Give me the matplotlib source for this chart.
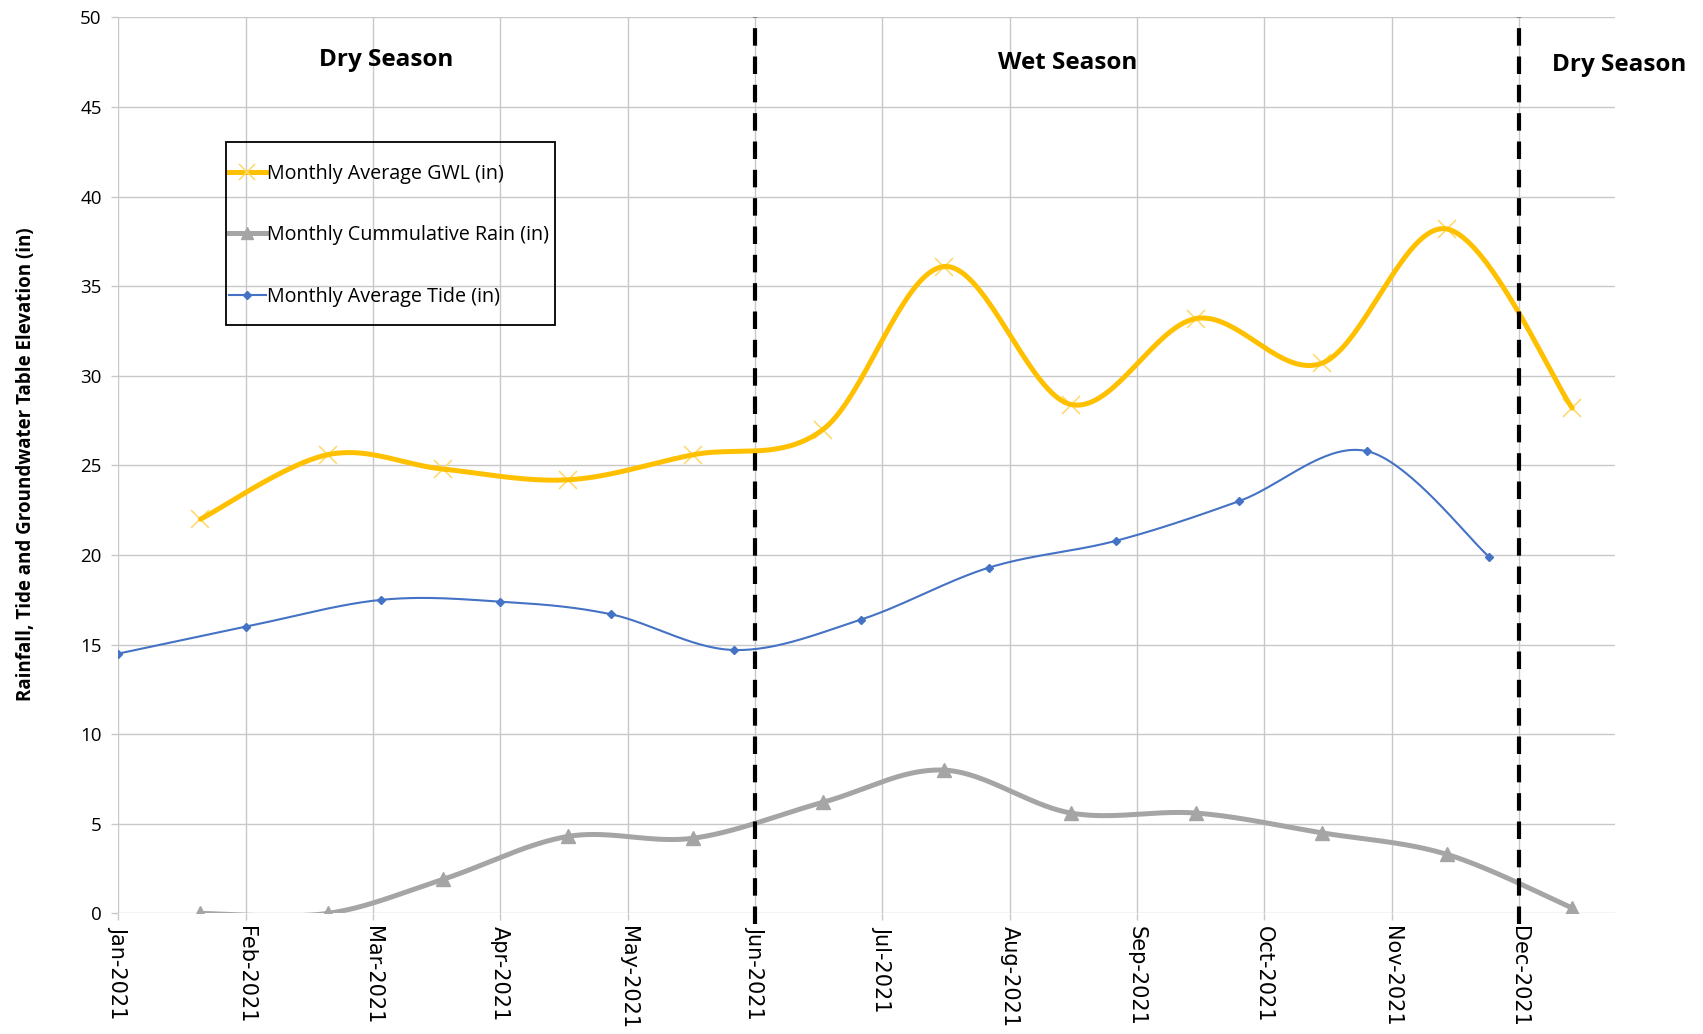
import numpy as np
import pandas as pd
import matplotlib
matplotlib.use("Agg")
import matplotlib.pyplot as plt
from matplotlib.lines import Line2D
from matplotlib.patches import Rectangle

plt.rcParams["font.family"] = ["Open Sans", "DejaVu Sans"]

OUTPUT_FILE = "out.png"
FIG_W, FIG_H = 1703, 1034

GWL_COLOR = "#FFC000"
GWL_MARKER_COLOR = "#FFD966"
RAIN_COLOR = "#A5A5A5"
TIDE_COLOR = "#4472C4"
GRID_COLOR = "#C8C8C8"

# Data.
MONTH_LABELS = ["Jan-2021", "Feb-2021", "Mar-2021", "Apr-2021", "May-2021",
                "Jun-2021", "Jul-2021", "Aug-2021", "Sep-2021", "Oct-2021",
                "Nov-2021", "Dec-2021"]

gwl_dates = ["2021-01-21", "2021-02-19", "2021-03-18", "2021-04-17",
             "2021-05-17", "2021-06-17", "2021-07-16", "2021-08-16",
             "2021-09-15", "2021-10-15", "2021-11-14", "2021-12-14"]
gwl_in = [22.0, 25.6, 24.8, 24.2, 25.6, 27.0, 36.1, 28.4, 33.2, 30.7,
          38.2, 28.2]
rain_in = [0.0, 0.0, 1.9, 4.3, 4.2, 6.2, 8.0, 5.6, 5.6, 4.5, 3.3, 0.3]

tide_dates = ["2021-01-01", "2021-02-01", "2021-03-03", "2021-04-01",
              "2021-04-27", "2021-05-27", "2021-06-26", "2021-07-27",
              "2021-08-27", "2021-09-25", "2021-10-26", "2021-11-24"]
tide_in = [14.5, 16.0, 17.5, 17.4, 16.7, 14.7, 16.4, 19.3, 20.8, 23.0,
           25.8, 19.9]

season_labels = ["Dry Season", "Wet Season", "Dry Season"]
season_bounds = ["2021-06-01", "2021-12-01"]


#______________________________________________________________________________
def month_pos(dates):
  """Position on a month axis where every month gets the same width."""
  d = pd.to_datetime(pd.Series(dates))
  return ((d.dt.month - 1) + (d.dt.day - 1) / d.dt.days_in_month).to_numpy()


#______________________________________________________________________________
def smooth(x, y, n=40):
  """Excel-style smoothed line: Catmull-Rom curve drawn as Bezier pieces."""
  p = np.column_stack([x, y]).astype(float)
  ext = np.vstack([p[0], p, p[-1]])
  t = np.linspace(0.0, 1.0, n)[:, None]
  pieces = []
  for i in range(len(p) - 1):
    p0, p1, p2, p3 = ext[i], ext[i + 1], ext[i + 2], ext[i + 3]
    c1 = p1 + (p2 - p0) / 6.0
    c2 = p2 - (p3 - p1) / 6.0
    seg = ((1 - t) ** 3) * p1 + 3 * ((1 - t) ** 2) * t * c1 \
        + 3 * (1 - t) * (t ** 2) * c2 + (t ** 3) * p2
    pieces.append(seg if i == 0 else seg[1:])
  curve = np.vstack(pieces)
  return curve[:, 0], curve[:, 1]


#______________________________________________________________________________
def main():
  fig = plt.figure(figsize=(FIG_W / 100, FIG_H / 100), dpi=100)
  ax = fig.add_axes([0.0695, 0.1166, 0.8788, 0.8665])

  x_gwl = month_pos(gwl_dates)
  x_tide = month_pos(tide_dates)

  # GWL: thick gold line, thin light crosses
  ax.plot(x_gwl, gwl_in, linestyle="none", marker="x", markersize=13,
          markeredgewidth=1.1, color=GWL_MARKER_COLOR, zorder=3)
  ax.plot(*smooth(x_gwl, gwl_in), color=GWL_COLOR, linewidth=3.6,
          solid_capstyle="round", zorder=4)

  # Rain: thick grey line with triangles
  ax.plot(*smooth(x_gwl, rain_in), color=RAIN_COLOR, linewidth=3.6,
          solid_capstyle="round", zorder=3)
  ax.plot(x_gwl, rain_in, linestyle="none", marker="^", markersize=10,
          color=RAIN_COLOR, zorder=4)

  # Tide: thin blue line with small diamonds
  ax.plot(*smooth(x_tide, tide_in), color=TIDE_COLOR, linewidth=1.5,
          zorder=3)
  ax.plot(x_tide, tide_in, linestyle="none", marker="D", markersize=4.5,
          color=TIDE_COLOR, zorder=4)

  # Season boundaries
  for xb in month_pos(season_bounds):
    ax.axvline(xb, ymin=-0.012, ymax=1.0, color="black", linewidth=3.0,
               dashes=(4.2, 2.6), zorder=6, clip_on=False)

  season_x = [2.106, 7.453, 11.785]
  season_y = [47.65, 47.45, 47.35]
  for sx, sy, label in zip(season_x, season_y, season_labels):
    ax.text(sx, sy, label, ha="center", va="center", fontsize=17.5,
            fontweight="bold", color="black", clip_on=False, zorder=7)

  ax.set_xlim(0.0, 11.755)
  ax.set_ylim(0.0, 50.0)
  ax.set_xticks(np.arange(len(MONTH_LABELS)))
  ax.set_xticklabels(MONTH_LABELS, rotation=270, ha="center", va="top",
                     fontsize=15, family=["DejaVu Sans"])
  ax.set_yticks(np.arange(0, 51, 5))
  ax.tick_params(axis="y", labelsize=13.5, length=5, width=1,
                 color=GRID_COLOR, pad=7)
  ax.tick_params(axis="x", length=5, width=1, color=GRID_COLOR, pad=4)
  for spine in ax.spines.values():
    spine.set_visible(False)
  ax.grid(True, color=GRID_COLOR, linewidth=1.0, zorder=0)
  ax.set_axisbelow(True)

  fig.text(0.0155, 0.551,
           "Rainfall, Tide and Groundwater Table Elevation (in)",
           rotation=90, ha="center", va="center", fontsize=13.5,
           fontweight="bold")

  # Legend: entries without frame, box drawn separately (pixel layout)
  handles = [
    Line2D([], [], color=GWL_COLOR, linewidth=3.6, marker="x",
           markersize=11, markeredgecolor=GWL_MARKER_COLOR,
           markeredgewidth=1.1),
    Line2D([], [], color=RAIN_COLOR, linewidth=3.6, marker="^",
           markersize=9),
    Line2D([], [], color=TIDE_COLOR, linewidth=1.5, marker="D",
           markersize=4.5),
  ]
  labels = ["Monthly Average GWL (in)", "Monthly Cummulative Rain (in)",
            "Monthly Average Tide (in)"]
  fig.legend(handles, labels, loc="upper left",
             bbox_to_anchor=(229 / FIG_W, 1 - 163.5 / FIG_H), fontsize=14.2,
             frameon=False, handlelength=1.87, handletextpad=0.05,
             labelspacing=2.12, borderpad=0.0, borderaxespad=0.0)
  box = Rectangle((226 / FIG_W, 1 - 325 / FIG_H), 329 / FIG_W, 183 / FIG_H,
                  transform=fig.transFigure, fill=False, edgecolor="black",
                  linewidth=1.3, zorder=8)
  fig.add_artist(box)

  fig.savefig(OUTPUT_FILE, dpi=100)
  plt.close(fig)
  print(f"Saved: {OUTPUT_FILE}")


if __name__ == "__main__":
  main()
